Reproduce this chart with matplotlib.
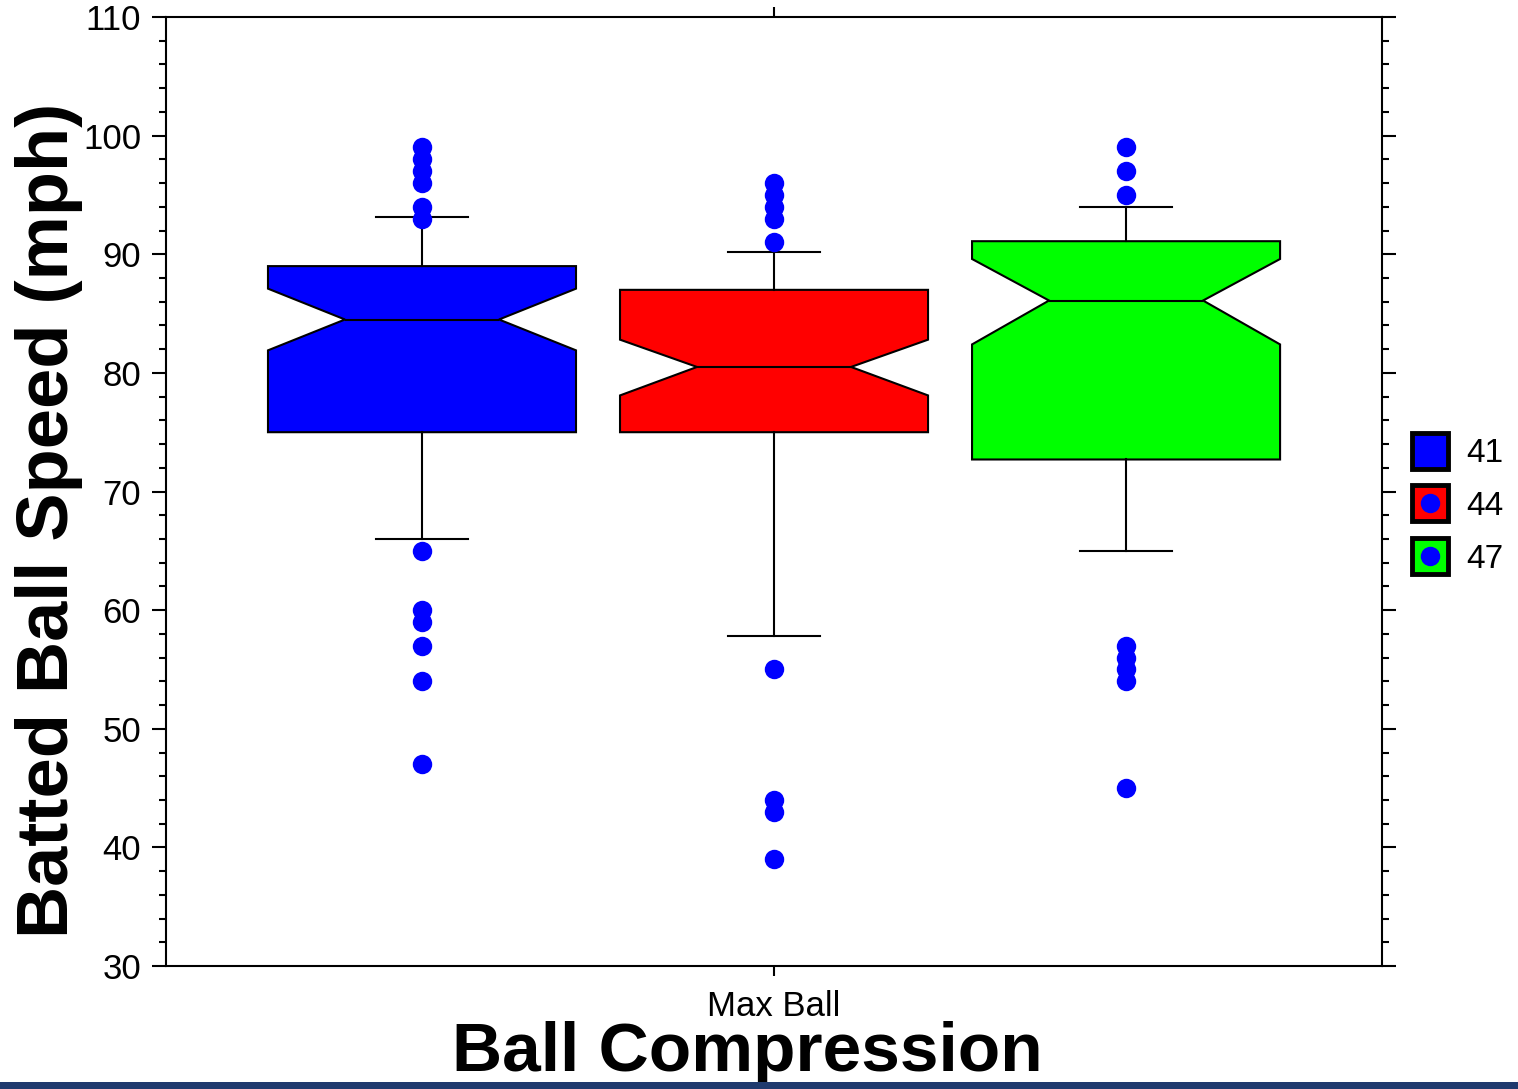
import matplotlib.pyplot as plt
from matplotlib.lines import Line2D
from matplotlib.patches import Rectangle
from matplotlib.ticker import MultipleLocator

plt.rcParams['font.family'] = ['Liberation Sans', 'DejaVu Sans']

# box statistics (mph)
groups = ['41', '44', '47']
colors = ['#0000ff', '#ff0000', '#00ff00']
q1 = [75.0, 75.0, 72.7]
med = [84.5, 80.5, 86.1]
q3 = [89.0, 87.0, 91.1]
ci_lo = [81.9, 78.1, 82.4]
ci_hi = [87.1, 82.8, 89.6]
whis_lo = [66.0, 57.8, 65.0]
whis_hi = [93.1, 90.2, 94.0]
fliers = [
    [99, 98, 97, 96, 94, 93, 65, 60, 59, 57, 54, 47],
    [96, 95, 94, 93, 91, 55, 44, 43, 39],
    [99, 97, 95, 57, 56, 55, 54, 45],
]
x_label = 'Max Ball'

stats = []
for i in range(len(groups)):
    stats.append(dict(med=med[i], q1=q1[i], q3=q3[i], cilo=ci_lo[i], cihi=ci_hi[i],
                      whislo=whis_lo[i], whishi=whis_hi[i], fliers=fliers[i]))

fig = plt.figure(figsize=(15.18, 10.89), dpi=100)
ax = fig.add_axes([0.1094, 0.1129, 0.801, 0.8715])

pos = [1, 2, 3]
bp = ax.bxp(stats, positions=pos, widths=0.875, capwidths=0.26, shownotches=True,
            patch_artist=True,
            boxprops=dict(edgecolor='black', linewidth=1.5),
            medianprops=dict(color='black', linewidth=1.5),
            whiskerprops=dict(color='black', linewidth=1.5),
            capprops=dict(color='black', linewidth=1.5),
            flierprops=dict(marker='o', markersize=14, markerfacecolor='#0000ff',
                            markeredgecolor='none'))
for patch, c in zip(bp['boxes'], colors):
    patch.set_facecolor(c)

ax.set_xlim(0.273, 3.727)
ax.set_ylim(30, 110)
ax.yaxis.set_major_locator(MultipleLocator(10))
ax.yaxis.set_minor_locator(MultipleLocator(2))
ax.set_xticks([2])
ax.set_xticklabels([x_label], fontsize=25)
ax.tick_params(axis='y', which='major', direction='out', length=10, width=1.5,
               labelsize=25, left=True, right=True, pad=8)
ax.tick_params(axis='y', which='minor', direction='out', length=5, width=1.5,
               left=True, right=True)
ax.tick_params(axis='x', direction='out', length=7, width=1.5, top=True, pad=10)
for s in ax.spines.values():
    s.set_linewidth(1.5)

ax.set_ylabel('Batted Ball Speed (mph)', fontsize=52, fontweight='bold')
ax.yaxis.set_label_coords(-0.068, 0.47)
ax.set_xlabel('Ball Compression', fontsize=50, fontweight='bold')
ax.xaxis.set_label_coords(0.478, -0.058)

sq = dict(marker='s', linestyle='none', markersize=26, markeredgecolor='black',
          markeredgewidth=3.5)
dot = dict(marker='o', linestyle='none', markersize=14, markerfacecolor='#0000ff',
           markeredgecolor='none')
handles = [
    Line2D([], [], markerfacecolor=colors[0], **sq),
    (Line2D([], [], markerfacecolor=colors[1], **sq), Line2D([], [], **dot)),
    (Line2D([], [], markerfacecolor=colors[2], **sq), Line2D([], [], **dot)),
]
fig.legend(handles, groups, loc='center left', bbox_to_anchor=(0.931, 0.535),
           frameon=False, fontsize=24, handlelength=1.0, handletextpad=0.6,
           labelspacing=0.65, borderaxespad=0, borderpad=0)

# dark band at the bottom edge of the slide
fig.patches.append(Rectangle((0, 0), 1, 0.006, transform=fig.transFigure,
                             facecolor='#1f3a6e', edgecolor='none'))

fig.savefig('out.png', dpi=100)
